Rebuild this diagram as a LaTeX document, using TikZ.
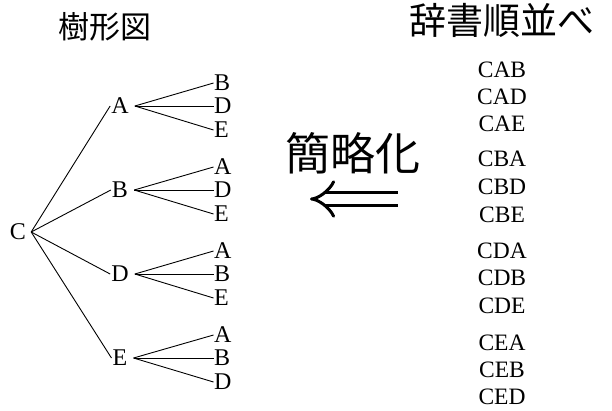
\documentclass[tikz,border=0pt]{standalone}
\usepackage{fontspec}
\setmainfont{Liberation Serif}
\newfontfamily\jpfont{Noto Sans CJK JP}
\usetikzlibrary{arrows.meta}
\begin{document}
\begin{tikzpicture}[x=1pt,y=-1pt,
  lt/.style={font=\fontsize{24}{26}\selectfont, inner sep=0pt},
  word/.style={font=\fontsize{23.5}{25}\selectfont, inner sep=0pt},
  edge/.style={line width=0.9pt},
  title/.style={font=\jpfont\fontsize{#1}{#1}\selectfont, inner sep=0pt}]
\useasboundingbox (0,0) rectangle (612,410);
% titles
\node[title=31] (t1) at (105,27) {樹形図};
\node[title=37] (t2) at (502,20) {辞書順並べ};
\node[title=45] (t3) at (353,153) {簡略化};
% arrow
\coordinate (arrL) at (310,199);
\coordinate (arrR) at (398,199);
\draw[line width=3pt, double distance=10pt, {Implies}-] (arrL) -- (arrR);
% tree
\node[lt] (C) at (18,232) {C};
\foreach \p/\y/\a/\b/\c [count=\i] in {A/106/B/D/E, B/190/A/D/E, D/274/A/B/E, E/358/A/B/D}{
  \node[lt] (P\i) at (120,\y) {\p};
  \draw[edge] ([xshift=5pt]C.east) -- ([xshift=-1pt]P\i.west);
  \node[lt, anchor=west] (Q\i a) at (214,\y-23) {\a};
  \node[lt, anchor=west] (Q\i b) at (214,\y) {\b};
  \node[lt, anchor=west] (Q\i c) at (214,\y+24) {\c};
  \draw[edge] ([xshift=6pt]P\i.east) -- ([xshift=-0.5pt]Q\i a.west);
  \draw[edge] ([xshift=6pt]P\i.east) -- ([xshift=-0.5pt]Q\i b.west);
  \draw[edge] ([xshift=6pt]P\i.east) -- ([xshift=-0.5pt]Q\i c.west);
}
% word list
\foreach \w/\y in {CAB/70, CAD/97, CAE/124, CBA/159, CBD/187, CBE/215, CDA/251, CDB/278, CDE/306, CEA/343, CEB/370, CED/397}{
  \node[word] (w\w) at (502,\y) {\w};
}
\end{tikzpicture}
\end{document}
